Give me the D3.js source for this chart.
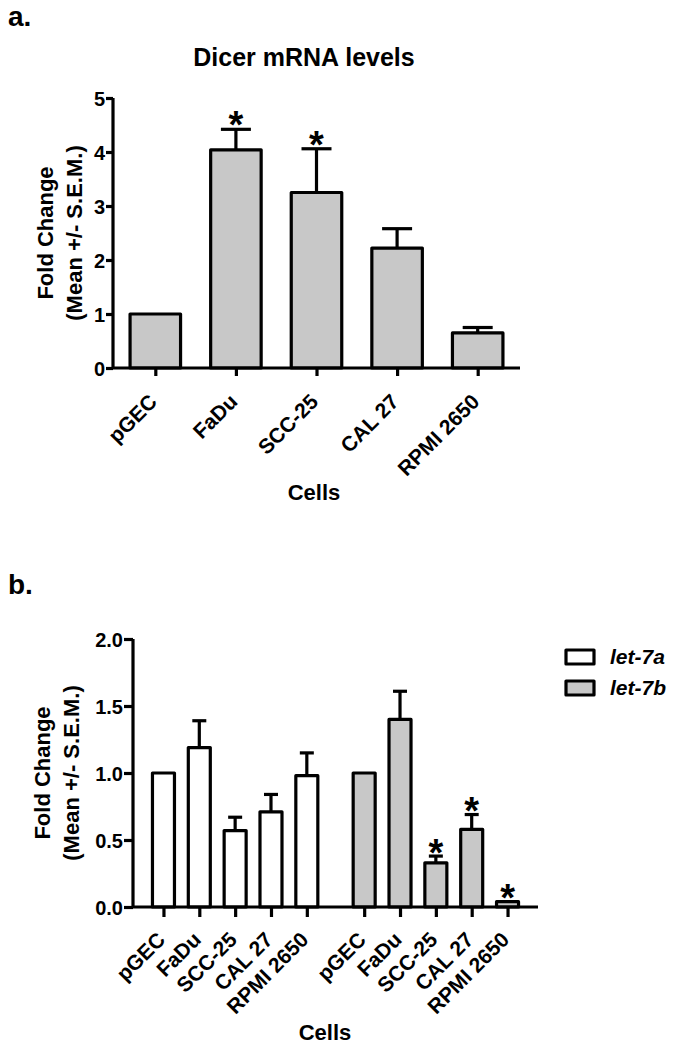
<!DOCTYPE html>
<html><head><meta charset="utf-8">
<script src="https://cdn.jsdelivr.net/npm/d3@7"></script>
<style>
body{margin:0;background:#fff;}
text{font-family:"Liberation Sans",Arial,sans-serif;font-weight:bold;fill:#000;}
</style></head>
<body>
<script>
// ---- data ----
const cells = ["pGEC","FaDu","SCC-25","CAL 27","RPMI 2650"];
const dicerMean = [1.0, 4.04, 3.25, 2.22, 0.65];
const dicerSem  = [0, 0.38, 0.81, 0.36, 0.10];
const dicerSig  = [false, true, true, false, false];
const ticksA = [0,1,2,3,4,5];

const seriesB = ["let-7a","let-7b"];
const let7aMean = [1.0, 1.19, 0.57, 0.71, 0.98];
const let7aSem  = [0, 0.20, 0.10, 0.13, 0.17];
const let7aSig  = [false,false,false,false,false];
const let7bMean = [1.0, 1.40, 0.33, 0.58, 0.04];
const let7bSem  = [0, 0.21, 0.05, 0.11, 0];
const let7bSig  = [false,false,true,true,true];
const ticksB = [0,0.5,1.0,1.5,2.0];
const fillsB = ["#ffffff","#c8c8c8"];

const W=679,H=1050;
const svg = d3.select("body").append("svg").attr("width",W).attr("height",H);
const SW=3.2;

function star(g,x,yc){
  const fs=38;
  g.append("text").attr("x",x).attr("y",yc+0.6*fs).attr("text-anchor","middle")
   .style("font-size",fs+"px").text("*");
}

// ================= Panel a =================
svg.append("text").attr("x",8).attr("y",26).style("font-size","28px").text("a.");
svg.append("text").attr("x",304).attr("y",66).attr("text-anchor","middle").style("font-size","25px").text("Dicer mRNA levels");

const ga = svg.append("g");
const xa = d3.scalePoint().domain(cells).range([113,520]).padding(0.525);
const ya = d3.scaleLinear().domain([0,5]).range([368,98]);
const bwA = 50.5, capA = 30;

const dataA = cells.map((c,i)=>({c,m:dicerMean[i],s:dicerSem[i],sig:dicerSig[i]}));
dataA.forEach(d=>{
  if(d.s>0){
    ga.append("line").attr("x1",xa(d.c)).attr("x2",xa(d.c)).attr("y1",ya(d.m)).attr("y2",ya(d.m+d.s))
      .attr("stroke","#000").attr("stroke-width",SW);
    ga.append("line").attr("x1",xa(d.c)-capA/2).attr("x2",xa(d.c)+capA/2).attr("y1",ya(d.m+d.s)).attr("y2",ya(d.m+d.s))
      .attr("stroke","#000").attr("stroke-width",SW);
  }
  ga.append("rect").attr("x",xa(d.c)-bwA/2).attr("width",bwA).attr("y",ya(d.m)).attr("height",ya(0)-ya(d.m))
    .attr("fill","#c8c8c8").attr("stroke","#000").attr("stroke-width",SW).attr("stroke-linejoin","round");
  if(d.sig) star(ga,xa(d.c),ya(d.m+d.s)-14);
});

// axes a
const yAxA = ga.append("g").attr("transform","translate(113,0)")
  .call(d3.axisLeft(ya).tickValues(ticksA).tickFormat(d3.format("d")).tickSize(7).tickPadding(1));
const xAxA = ga.append("g").attr("transform","translate(0,368)")
  .call(d3.axisBottom(xa).tickSize(8).tickFormat(""));
[yAxA,xAxA].forEach(a=>{
  a.select(".domain").attr("stroke","#000").attr("stroke-width",SW);
  a.selectAll(".tick line").attr("stroke","#000").attr("stroke-width",SW);
});
yAxA.select(".domain").attr("d","M0,98V368");
xAxA.select(".domain").attr("d","M113,0H520");
yAxA.selectAll(".tick text").style("font-size","20px").style("font-family",null).attr("dy","0.36em");
cells.forEach(c=>{
  ga.append("text").attr("text-anchor","end").style("font-size","21px")
    .attr("transform",`translate(${xa(c)+3},403) rotate(-45)`).text(c);
});
ga.append("text").attr("x",314).attr("y",500).attr("text-anchor","middle").style("font-size","22px").text("Cells");
ga.append("text").attr("transform","translate(53,233) rotate(-90)").attr("text-anchor","middle").style("font-size","22px").text("Fold Change");
ga.append("text").attr("transform","translate(82,233) rotate(-90)").attr("text-anchor","middle").style("font-size","22px").text("(Mean +/- S.E.M.)");

// ================= Panel b =================
svg.append("text").attr("x",8).attr("y",594).style("font-size","28px").text("b.");
const gb = svg.append("g");
const gap = 0.6;
const xb = d3.scaleLinear().domain([-0.85, 10.45]).range([133,538]);
const yb = d3.scaleLinear().domain([0,2]).range([907,639]);
const bwB = 22, capB = 14;
const means=[let7aMean,let7bMean], sems=[let7aSem,let7bSem], sigs=[let7aSig,let7bSig];
const dataB=[];
seriesB.forEach((s,gi)=>cells.forEach((c,ci)=>dataB.push({s,gi,c,pos:gi*(cells.length+gap)+ci,m:means[gi][ci],e:sems[gi][ci],sig:sigs[gi][ci]})));

dataB.forEach(d=>{
  const x=xb(d.pos);
  if(d.e>0){
    gb.append("line").attr("x1",x).attr("x2",x).attr("y1",yb(d.m)).attr("y2",yb(d.m+d.e)).attr("stroke","#000").attr("stroke-width",SW);
    gb.append("line").attr("x1",x-capB/2).attr("x2",x+capB/2).attr("y1",yb(d.m+d.e)).attr("y2",yb(d.m+d.e)).attr("stroke","#000").attr("stroke-width",SW);
  }
  gb.append("rect").attr("x",x-bwB/2).attr("width",bwB).attr("y",yb(d.m)).attr("height",yb(0)-yb(d.m))
    .attr("fill",fillsB[d.gi]).attr("stroke","#000").attr("stroke-width",SW).attr("stroke-linejoin","round");
  if(d.sig) star(gb,x,yb(d.m+d.e)-13);
});

const yAxB = gb.append("g").attr("transform","translate(133,0)")
  .call(d3.axisLeft(yb).tickValues(ticksB).tickFormat(d3.format(".1f")).tickSize(9).tickPadding(1));
const xAxB = gb.append("g").attr("transform","translate(0,907)")
  .call(d3.axisBottom(xb).tickValues(dataB.map(d=>d.pos)).tickSize(10).tickFormat(""));
[yAxB,xAxB].forEach(a=>{
  a.select(".domain").attr("stroke","#000").attr("stroke-width",SW);
  a.selectAll(".tick line").attr("stroke","#000").attr("stroke-width",SW);
});
yAxB.select(".domain").attr("d","M0,639V907");
xAxB.select(".domain").attr("d","M133,0H538");
yAxB.selectAll(".tick text").style("font-size","20px").style("font-family",null).attr("dy","0.36em");
dataB.forEach(d=>{
  gb.append("text").attr("text-anchor","end").style("font-size","21px")
    .attr("transform",`translate(${xb(d.pos)+3},941) rotate(-45)`).text(d.c);
});
gb.append("text").attr("x",325).attr("y",1040).attr("text-anchor","middle").style("font-size","22px").text("Cells");
gb.append("text").attr("transform","translate(50,773) rotate(-90)").attr("text-anchor","middle").style("font-size","22px").text("Fold Change");
gb.append("text").attr("transform","translate(79,773) rotate(-90)").attr("text-anchor","middle").style("font-size","22px").text("(Mean +/- S.E.M.)");

// legend
seriesB.forEach((s,i)=>{
  const y0 = 650 + i*31;
  gb.append("rect").attr("x",566).attr("y",y0).attr("width",28).attr("height",14)
    .attr("fill",fillsB[i]).attr("stroke","#000").attr("stroke-width",SW).attr("stroke-linejoin","round");
  gb.append("text").attr("x",610).attr("y",y0+14).style("font-size","21px").style("font-style","italic").text(s);
});
</script>
</body></html>
